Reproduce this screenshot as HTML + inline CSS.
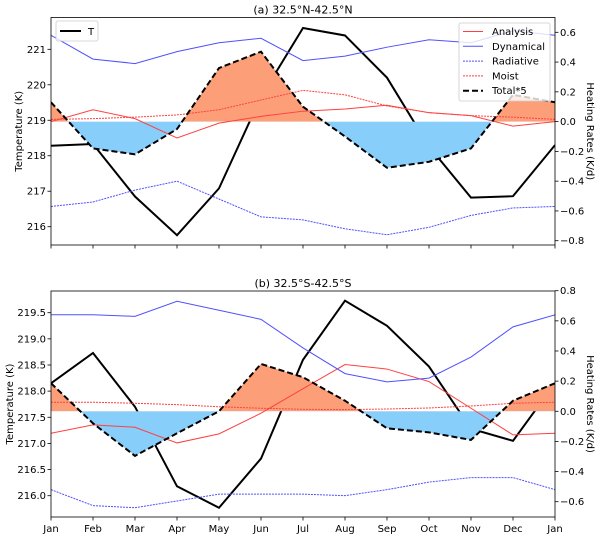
<!DOCTYPE html>
<html><head><meta charset="utf-8"><style>
body{margin:0;background:#fff;}
svg{display:block;font-family:"DejaVu Sans","Liberation Sans",sans-serif;}
</style></head><body>
<svg id="chart" width="600" height="537" viewBox="0 0 600 537"></svg>
<script>
const months = ["Jan","Feb","Mar","Apr","May","Jun","Jul","Aug","Sep","Oct","Nov","Dec","Jan"];
// Panel (a) 32.5N-42.5N
const tempA = [218.28,218.33,216.85,215.76,217.08,219.66,221.6,221.39,220.2,218.26,216.82,216.86,218.3];
const dynA = [0.58,0.42,0.39,0.47,0.53,0.56,0.41,0.44,0.50,0.55,0.53,0.61,0.58];
const anaA = [0.0,0.08,0.02,-0.11,-0.01,0.035,0.07,0.085,0.11,0.06,0.04,-0.03,0.0];
const radA = [-0.57,-0.54,-0.46,-0.40,-0.52,-0.64,-0.66,-0.72,-0.76,-0.71,-0.63,-0.58,-0.57];
const moistA = [0.015,0.02,0.03,0.045,0.08,0.145,0.21,0.18,0.105,0.06,0.04,0.03,0.015];
const totA = [0.13,-0.18,-0.22,-0.05,0.36,0.47,0.10,-0.10,-0.31,-0.27,-0.18,0.18,0.13];
const leftTicksA = [216,217,218,219,220,221];
const rightTicksA = [-0.8,-0.6,-0.4,-0.2,0.0,0.2,0.4,0.6];
// Panel (b) 32.5S-42.5S
const tempB = [218.15,218.73,217.70,216.18,215.77,216.71,218.6,219.73,219.25,218.47,217.28,217.05,218.15];
const dynB = [0.64,0.64,0.63,0.73,0.67,0.61,0.42,0.25,0.195,0.22,0.36,0.56,0.64];
const anaB = [-0.146,-0.09,-0.106,-0.21,-0.15,-0.013,0.15,0.31,0.28,0.197,0.02,-0.157,-0.146];
const radB = [-0.52,-0.626,-0.64,-0.595,-0.55,-0.55,-0.55,-0.56,-0.52,-0.47,-0.44,-0.44,-0.52];
const moistB = [0.06,0.06,0.053,0.044,0.03,0.02,0.013,0.011,0.015,0.022,0.035,0.053,0.06];
const totB = [0.186,-0.08,-0.296,-0.146,0.0,0.314,0.226,0.07,-0.113,-0.14,-0.19,0.07,0.186];
const leftTicksB = [216.0,216.5,217.0,217.5,218.0,218.5,219.0,219.5];
const rightTicksB = [-0.6,-0.4,-0.2,0.0,0.2,0.4,0.6,0.8];

const NS="http://www.w3.org/2000/svg";
const svg=document.getElementById('chart');
function el(tag,attrs,parent){const e=document.createElementNS(NS,tag);for(const k in attrs)e.setAttribute(k,attrs[k]);(parent||svg).appendChild(e);return e;}
const FS=10;

function panel(cfg){
  const X0=51,X1=555,T=cfg.top,B=cfg.bottom;
  const g=el('g',{});
  
  
  const xs=i=>X0+(X1-X0)*i/12;
  const yl=v=>cfg.lY0+(v-cfg.lV0)*(cfg.lY1-cfg.lY0)/(cfg.lV1-cfg.lV0);
  const yr=v=>cfg.rY0+(v-cfg.rV0)*(cfg.rY1-cfg.rY0)/(cfg.rV1-cfg.rV0);
  const clipId='clip'+cfg.id;
  const cp=el('clipPath',{id:clipId},g);el('rect',{x:X0,y:T,width:X1-X0,height:B-T},cp);
  const plot=el('g',{'clip-path':'url(#'+clipId+')'},g);
  const pts=(arr,f)=>arr.map((v,i)=>xs(i).toFixed(2)+','+f(v).toFixed(2)).join(' ');
  const tl=el('polyline',{points:pts(cfg.temp,yl),fill:'none',stroke:'#000','stroke-width':2},plot);
  
  
  const z=yr(0);
  const poly=xs(0)+','+z+' '+pts(cfg.tot,yr)+' '+xs(12)+','+z;
  const cu=el('clipPath',{id:clipId+'u'},g);el('rect',{x:X0,y:T,width:X1-X0,height:z-T},cu);
  const cd=el('clipPath',{id:clipId+'d'},g);el('rect',{x:X0,y:z,width:X1-X0,height:B-z},cd);
  const fu=el('polygon',{points:poly,fill:'#fc9f78','clip-path':'url(#'+clipId+'u)'},plot);
  
  
  const fd=el('polygon',{points:poly,fill:'#87cefa','clip-path':'url(#'+clipId+'d)'},plot);
  
  
  const series=[[cfg.ana,'#ff4040','none','analysis-line'],[cfg.dyn,'#5050ff','none','dynamical-line'],[cfg.rad,'#5050ff','2,1','radiative-line'],[cfg.moist,'#ff4040','2,1','moist-line']];
  series.forEach(s=>{const p=el('polyline',{points:pts(s[0],yr),fill:'none',stroke:s[1],'stroke-width':1,'stroke-dasharray':s[2]},plot);
    
    });
  const tt=el('polyline',{points:pts(cfg.tot,yr),fill:'none',stroke:'#000','stroke-width':2,'stroke-dasharray':'6,3'},plot);
  
  
  el('rect',{x:X0,y:T,width:X1-X0,height:B-T,fill:'none',stroke:'#000','stroke-width':0.8},g);
  cfg.lt.forEach(v=>{const y=yl(v);el('line',{x1:X0-3.5,x2:X0,y1:y,y2:y,stroke:'#000','stroke-width':0.8},g);
    const t=el('text',{x:X0-5,y:y+3.5,'text-anchor':'end','font-size':FS},g);t.textContent=cfg.lfmt(v);
    });
  cfg.rt.forEach(v=>{const y=yr(v);el('line',{x1:X1,x2:X1+3.5,y1:y,y2:y,stroke:'#000','stroke-width':0.8},g);
    const t=el('text',{x:X1+5,y:y+3.5,'text-anchor':'start','font-size':FS},g);t.textContent=(v<0?'\u2212':'')+Math.abs(v).toFixed(1);
    });
  months.forEach((m,i)=>{const x=xs(i);el('line',{x1:x,x2:x,y1:B,y2:B+3.5,stroke:'#000','stroke-width':0.8},g);
    if(cfg.xlabels){const t=el('text',{x:x,y:B+15,'text-anchor':'middle','font-size':FS},g);t.textContent=m;
      }});
  const ti=el('text',{x:(X0+X1)/2,y:T-4,'text-anchor':'middle','font-size':11},g);ti.textContent=cfg.title;
  
  const yc=(T+B)/2;
  const la=el('text',{x:0,y:0,'text-anchor':'middle','font-size':FS,transform:`translate(${cfg.lLabX},${yc}) rotate(-90)`},g);la.textContent='Temperature (K)';
  
  const ra=el('text',{x:0,y:0,'text-anchor':'middle','font-size':FS,transform:`translate(587,${yc}) rotate(90)`},g);ra.textContent='Heating Rates (K/d)';
  
  return g;
}

panel({id:'a',name:'panel-a',top:17.5,bottom:245,temp:tempA,dyn:dynA,ana:anaA,rad:radA,moist:moistA,tot:totA,
  lY0:49.3,lV0:221,lY1:226.7,lV1:216,rY0:32.3,rV0:0.6,rY1:240.7,rV1:-0.8,lt:leftTicksA,rt:rightTicksA,lfmt:v=>v.toFixed(0),
  xlabels:false,title:'(a) 32.5\u00B0N-42.5\u00B0N',lLabX:22});
panel({id:'b',name:'panel-b',top:291,bottom:517,temp:tempB,dyn:dynB,ana:anaB,rad:radB,moist:moistB,tot:totB,
  lY0:312.7,lV0:219.5,lY1:495.7,lV1:216.0,rY0:290.7,rV0:0.8,rY1:501.7,rV1:-0.6,lt:leftTicksB,rt:rightTicksB,lfmt:v=>v.toFixed(1),
  xlabels:true,title:'(b) 32.5\u00B0S-42.5\u00B0S',lLabX:13});

const lg1=el('g',{});


el('rect',{x:56,y:21,width:42,height:20,rx:2,fill:'#fff','fill-opacity':0.8,stroke:'#ccc','stroke-width':0.8},lg1);
el('line',{x1:60,x2:81,y1:31,y2:31,stroke:'#000','stroke-width':2},lg1);
const lt1=el('text',{x:88,y:35,'font-size':FS},lg1);lt1.textContent='T';
const lg2=el('g',{});


el('rect',{x:459,y:23,width:91,height:78,rx:2,fill:'#fff','fill-opacity':0.8,stroke:'#ccc','stroke-width':0.8},lg2);
const entries=[['Analysis','#ff4040','none',1],['Dynamical','#5050ff','none',1],['Radiative','#5050ff','2,1',1],['Moist','#ff4040','2,1',1],['Total*5','#000','6,3',2]];
entries.forEach((e,i)=>{const y=31.5+i*14.8;
  const en=el('g',{},lg2);
  
  
  el('line',{x1:463,x2:483,y1:y,y2:y,stroke:e[1],'stroke-width':e[3],'stroke-dasharray':e[2]},en);
  const t=el('text',{x:492,y:y+3.5,'font-size':FS},en);t.textContent=e[0];});
</script>
</body></html>
